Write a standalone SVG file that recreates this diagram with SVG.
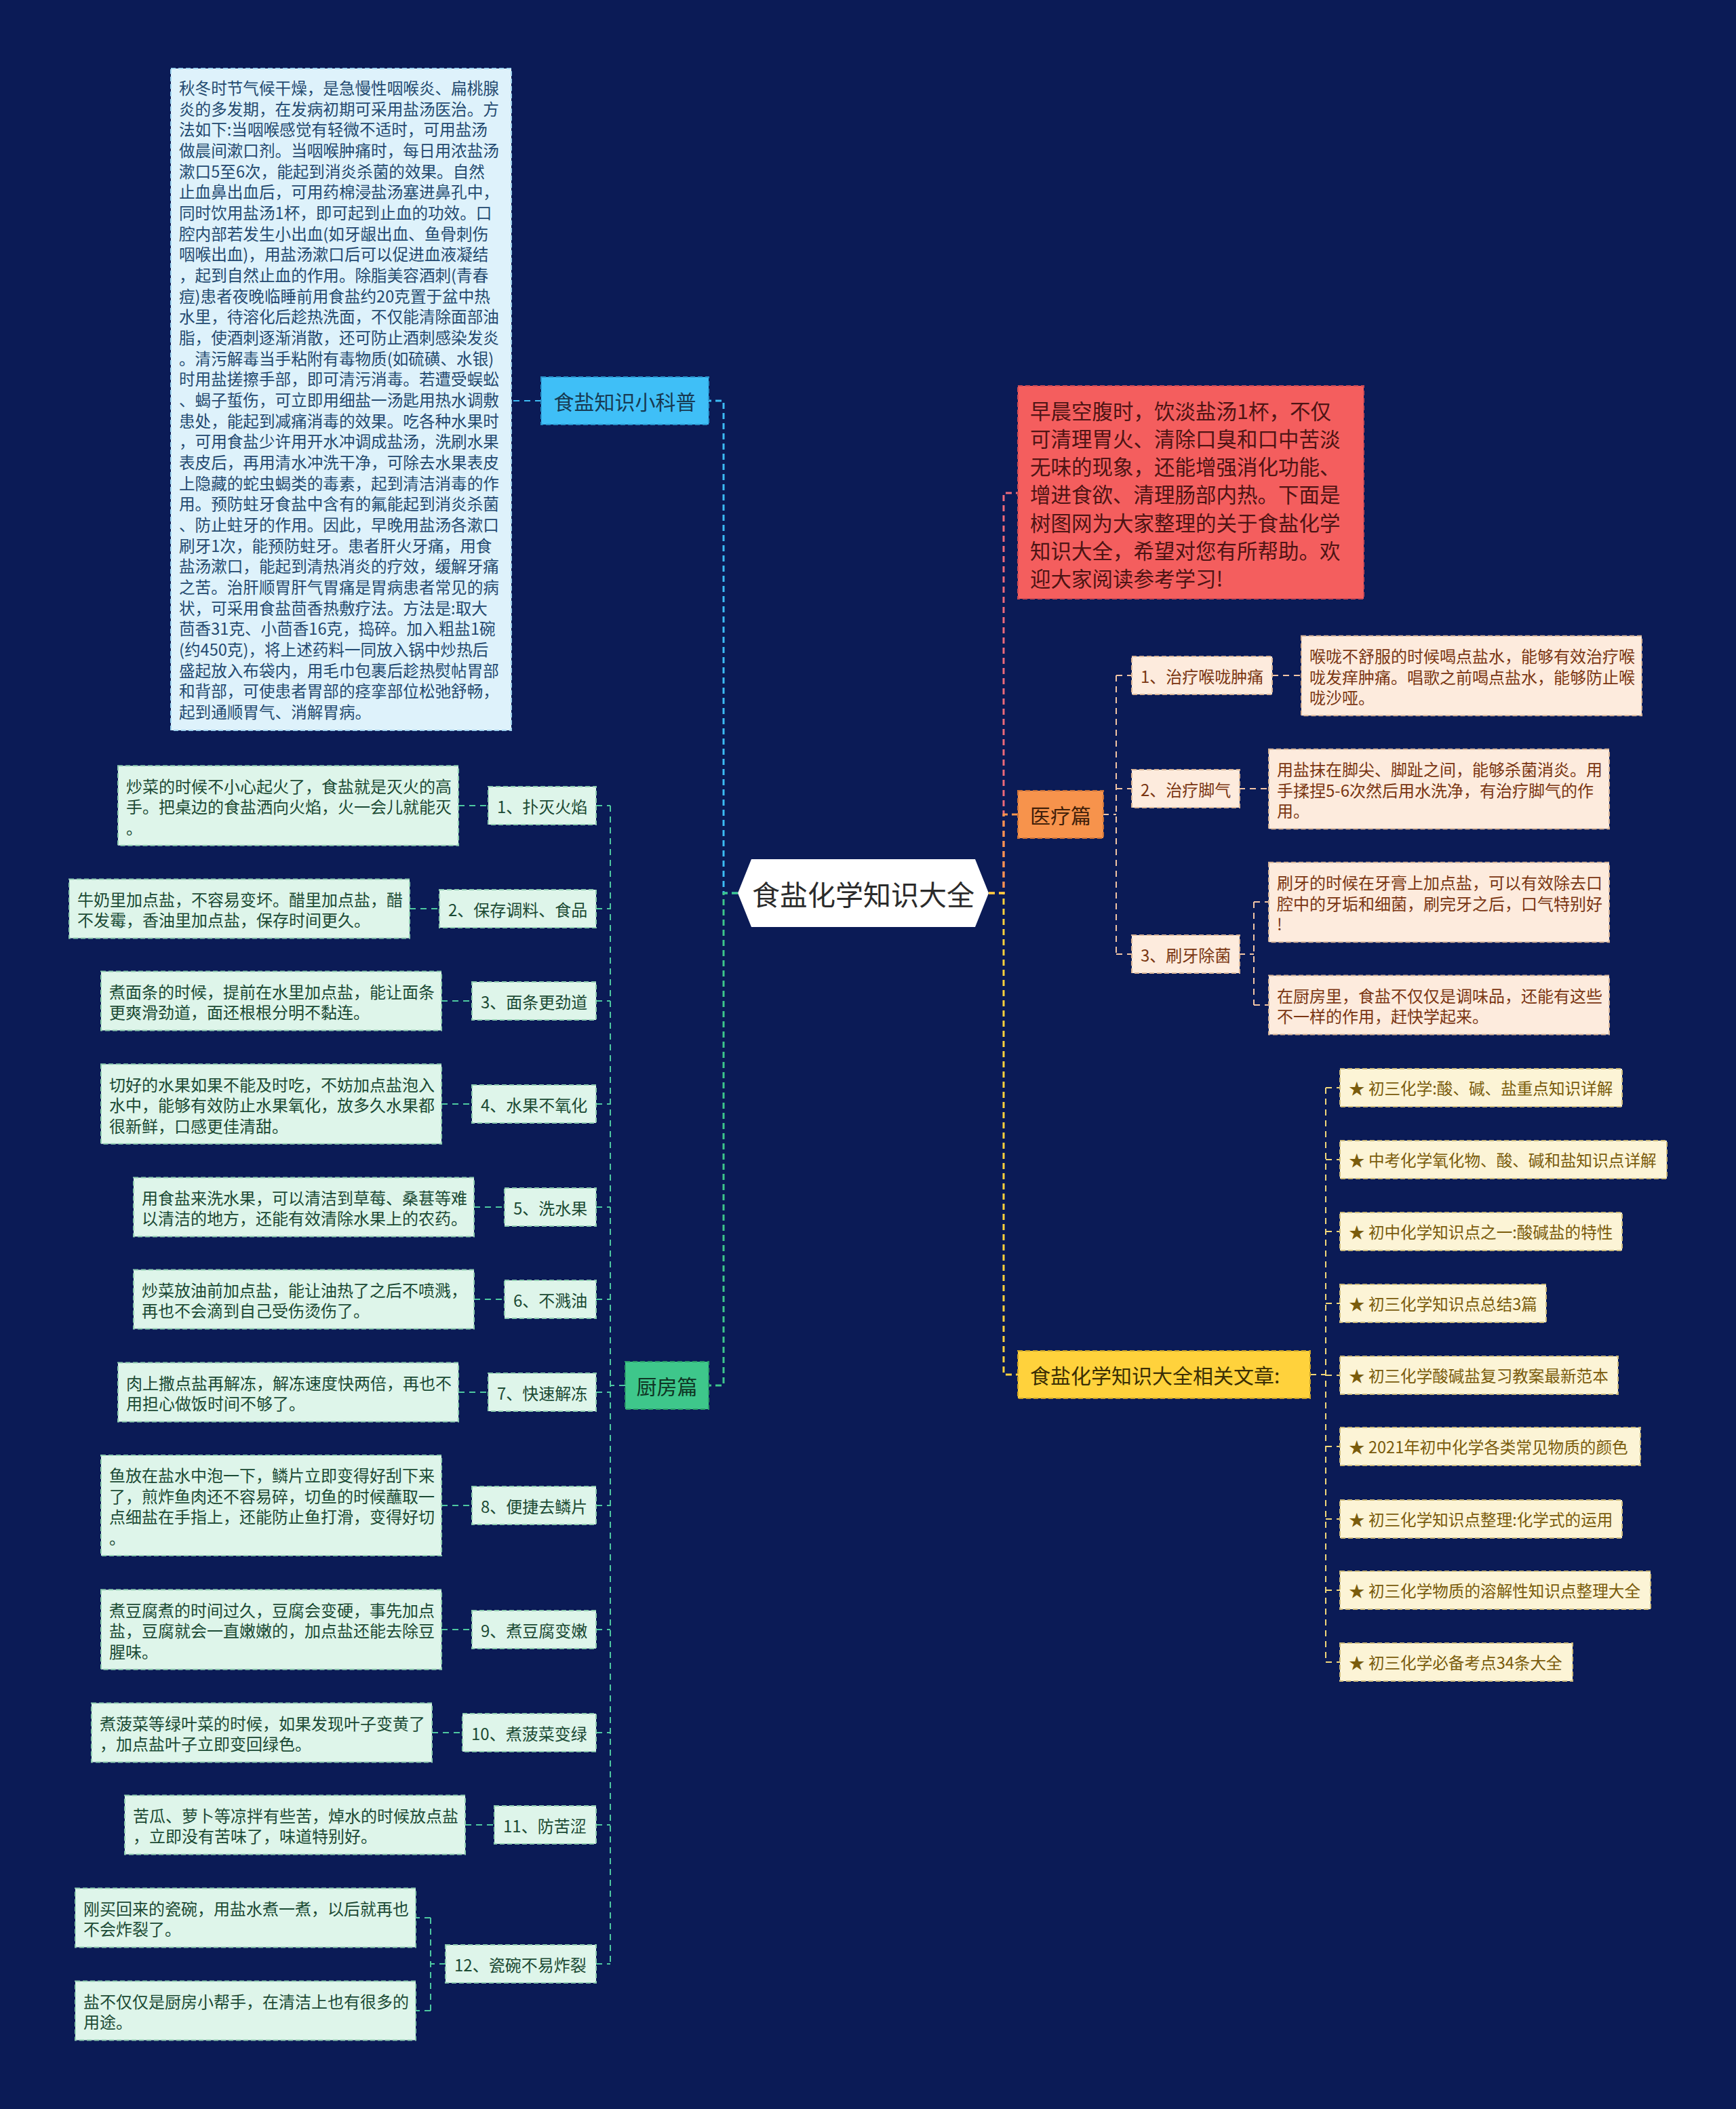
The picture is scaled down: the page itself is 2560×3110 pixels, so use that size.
<svg xmlns="http://www.w3.org/2000/svg" width="2560" height="3110" viewBox="0 0 2560 3110">
<defs>
<style>
text{font-family:"Noto Sans CJK SC","Noto Sans",sans-serif;dominant-baseline:central;}
.bg{fill:#0b1b56;}
.c{fill:none;stroke-width:3;stroke-dasharray:9 6;}
.ci{fill:none;stroke-width:2;stroke-dasharray:9 7;}
.blue{stroke:#3dbcf5;}
.green{stroke:#3ec78b;}
.pink{stroke:#ee6b7a;}
.orange{stroke:#f7944d;}
.yellow{stroke:#ffd23c;}
.kg{stroke:#4ec9a0;}
.mp{stroke:#f3c6a5;}
.ay{stroke:#f1d77a;}
.nb{stroke-width:2;stroke-dasharray:7 4;}
.root{fill:#ffffff;}
.rootT{font-size:41px;fill:#2b2b2b;text-anchor:middle;}
.mainT{font-size:30px;text-anchor:middle;}
.big{fill:#def2fb;stroke:#9fd3ee;}
.bigT{font-size:23.6px;fill:#244a70;}
.kBox{fill:#def5ea;stroke:#8fcdb0;}
.kT{font-size:24px;fill:#1b4a34;}
.mBox{fill:#fdebdd;stroke:#d8b597;}
.mT{font-size:24px;fill:#7a3612;}
.aBox{fill:#fcf4d6;stroke:#cdbb7c;}
.aT{font-size:23.6px;fill:#7a5c0c;}
</style>
</defs>
<rect class="bg" x="0" y="0" width="2560" height="3110"/>

<g id="connectors">
  <path class="c blue" d="M1088,1317 H1067 V591 H1045"/>
  <path class="c green" d="M1088,1317 H1067 V2043 H1045"/>
  <path class="c pink" d="M1458,1317 H1480 V727 H1501"/>
  <path class="c orange" d="M1458,1317 H1480 V1201 H1501"/>
  <path class="c yellow" d="M1458,1317 H1480 V2027 H1501"/>
  <path class="ci blue" d="M798,591 H754"/>
  <path class="ci mp" d="M1626,1201 H1646 M1646,996 V1407 M1646,996 H1669 M1646,1163 H1669 M1646,1407 H1669"/>
  <path class="ci mp" d="M1876,996 H1919 M1827,1163 H1871 M1827,1407 H1849 M1849,1330 V1482 M1849,1330 H1871 M1849,1482 H1871"/>
  <path class="ci ay" d="M1932,2027 H1955 M1955,1604 V2451 M1955,1604 H1976 M1955,1710 H1976 M1955,1816 H1976 M1955,1922 H1976 M1955,2028 H1976 M1955,2133 H1976 M1955,2240 H1976 M1955,2345 H1976 M1955,2451 H1976"/>
  <path class="ci kg" d="M922,2043 H900 M900,1188 V2896 M879,1188 H900 M879,1340 H900 M879,1476 H900 M879,1628 H900 M879,1780 H900 M879,1916 H900 M879,2053 H900 M879,2220 H900 M879,2403 H900 M879,2555 H900 M879,2691 H900 M879,2896 H900"/>
  <path class="ci kg" d="M676,1188 H720 M604,1340 H648 M651,1476 H696 M651,1628 H696 M699,1780 H744 M699,1916 H744 M676,2053 H720 M651,2220 H696 M651,2403 H696 M637,2555 H682 M686,2691 H729 M657,2896 H635 M635,2828 V2965 M635,2828 H613 M635,2965 H613"/>
</g>

<g id="root">
  <polygon class="root" points="1088,1317 1108,1267 1438,1267 1458,1317 1438,1367 1108,1367"/>
  <text class="rootT" x="1273" y="1317">食盐化学知识大全</text>
</g>

<g id="n-kepu">
  <rect x="798" y="556" width="247" height="70" fill="#3fbff7" stroke="#2a94cc" class="nb"/>
  <text class="mainT" x="921.5" y="591" fill="#173a52">食盐知识小科普</text>
</g>

<g id="n-kepu-text">
  <rect class="big nb" x="252" y="101" width="502" height="976"/>
  <text class="bigT">
    <tspan x="264" y="128.8">秋冬时节气候干燥，是急慢性咽喉炎、扁桃腺</tspan>
    <tspan x="264" y="159.5">炎的多发期，在发病初期可采用盐汤医治。方</tspan>
    <tspan x="264" y="190.1">法如下:当咽喉感觉有轻微不适时，可用盐汤</tspan>
    <tspan x="264" y="220.8">做晨间漱口剂。当咽喉肿痛时，每日用浓盐汤</tspan>
    <tspan x="264" y="251.5">漱口5至6次，能起到消炎杀菌的效果。自然</tspan>
    <tspan x="264" y="282.2">止血鼻出血后，可用药棉浸盐汤塞进鼻孔中，</tspan>
    <tspan x="264" y="312.8">同时饮用盐汤1杯，即可起到止血的功效。口</tspan>
    <tspan x="264" y="343.5">腔内部若发生小出血(如牙龈出血、鱼骨刺伤</tspan>
    <tspan x="264" y="374.2">咽喉出血)，用盐汤漱口后可以促进血液凝结</tspan>
    <tspan x="264" y="404.8">，起到自然止血的作用。除脂美容酒刺(青春</tspan>
    <tspan x="264" y="435.5">痘)患者夜晚临睡前用食盐约20克置于盆中热</tspan>
    <tspan x="264" y="466.2">水里，待溶化后趁热洗面，不仅能清除面部油</tspan>
    <tspan x="264" y="496.8">脂，使酒刺逐渐消散，还可防止酒刺感染发炎</tspan>
    <tspan x="264" y="527.5">。清污解毒当手粘附有毒物质(如硫磺、水银)</tspan>
    <tspan x="264" y="558.2">时用盐搓擦手部，即可清污消毒。若遭受蜈蚣</tspan>
    <tspan x="264" y="588.9">、蝎子蜇伤，可立即用细盐一汤匙用热水调敷</tspan>
    <tspan x="264" y="619.5">患处，能起到减痛消毒的效果。吃各种水果时</tspan>
    <tspan x="264" y="650.2">，可用食盐少许用开水冲调成盐汤，洗刷水果</tspan>
    <tspan x="264" y="680.9">表皮后，再用清水冲洗干净，可除去水果表皮</tspan>
    <tspan x="264" y="711.5">上隐藏的蛇虫蝎类的毒素，起到清洁消毒的作</tspan>
    <tspan x="264" y="742.2">用。预防蛀牙食盐中含有的氟能起到消炎杀菌</tspan>
    <tspan x="264" y="772.9">、防止蛀牙的作用。因此，早晚用盐汤各漱口</tspan>
    <tspan x="264" y="803.5">刷牙1次，能预防蛀牙。患者肝火牙痛，用食</tspan>
    <tspan x="264" y="834.2">盐汤漱口，能起到清热消炎的疗效，缓解牙痛</tspan>
    <tspan x="264" y="864.9">之苦。治肝顺胃肝气胃痛是胃病患者常见的病</tspan>
    <tspan x="264" y="895.6">状，可采用食盐茴香热敷疗法。方法是:取大</tspan>
    <tspan x="264" y="926.2">茴香31克、小茴香16克，捣碎。加入粗盐1碗</tspan>
    <tspan x="264" y="956.9">(约450克)，将上述药料一同放入锅中炒热后</tspan>
    <tspan x="264" y="987.6">盛起放入布袋内，用毛巾包裹后趁热熨帖胃部</tspan>
    <tspan x="264" y="1018.2">和背部，可使患者胃部的痉挛部位松弛舒畅，</tspan>
    <tspan x="264" y="1048.9">起到通顺胃气、消解胃病。</tspan>
  </text>
</g>

<g id="n-intro">
  <rect x="1501" y="569" width="510" height="314" fill="#f45e5e" stroke="#c94a55" class="nb"/>
  <text style="font-size:30.5px" fill="#4e1414">
    <tspan x="1519" y="604.5">早晨空腹时，饮淡盐汤1杯，不仅</tspan>
    <tspan x="1519" y="645.8">可清理胃火、清除口臭和口中苦淡</tspan>
    <tspan x="1519" y="687.1">无味的现象，还能增强消化功能、</tspan>
    <tspan x="1519" y="728.4">增进食欲、清理肠部内热。下面是</tspan>
    <tspan x="1519" y="769.7">树图网为大家整理的关于食盐化学</tspan>
    <tspan x="1519" y="811">知识大全，希望对您有所帮助。欢</tspan>
    <tspan x="1519" y="852.3">迎大家阅读参考学习!</tspan>
  </text>
</g>

<g id="n-medical">
  <rect x="1501" y="1166" width="126" height="70" fill="#f7934c" stroke="#c9723a" class="nb"/>
  <text class="mainT" x="1564" y="1201" fill="#40200a">医疗篇</text>
</g>
<g id="m1">
  <rect class="mBox nb" x="1669" y="968" width="207" height="56"/>
  <text class="mT" x="1682" y="996">1、治疗喉咙肿痛</text>
</g>
<g id="m1d">
  <rect class="mBox nb" x="1919" y="937.75" width="502" height="117.5"/>
  <text class="mT"><tspan x="1931" y="966">喉咙不舒服的时候喝点盐水，能够有效治疗喉</tspan><tspan x="1931" y="996.5">咙发痒肿痛。唱歌之前喝点盐水，能够防止喉</tspan><tspan x="1931" y="1027">咙沙哑。</tspan></text>
</g>
<g id="m2">
  <rect class="mBox nb" x="1669" y="1135" width="159" height="56"/>
  <text class="mT" x="1682" y="1163">2、治疗脚气</text>
</g>
<g id="m2d">
  <rect class="mBox nb" x="1871" y="1104.75" width="502" height="117.5"/>
  <text class="mT"><tspan x="1883" y="1133">用盐抹在脚尖、脚趾之间，能够杀菌消炎。用</tspan><tspan x="1883" y="1163.5">手揉捏5-6次然后用水洗净，有治疗脚气的作</tspan><tspan x="1883" y="1194">用。</tspan></text>
</g>
<g id="m3">
  <rect class="mBox nb" x="1669" y="1379" width="159" height="56"/>
  <text class="mT" x="1682" y="1407">3、刷牙除菌</text>
</g>
<g id="m3a">
  <rect class="mBox nb" x="1871" y="1271.75" width="502" height="117.5"/>
  <text class="mT"><tspan x="1883" y="1300">刷牙的时候在牙膏上加点盐，可以有效除去口</tspan><tspan x="1883" y="1330.5">腔中的牙垢和细菌，刷完牙之后，口气特别好</tspan><tspan x="1883" y="1361">!</tspan></text>
</g>
<g id="m3b">
  <rect class="mBox nb" x="1871" y="1438.5" width="502" height="87"/>
  <text class="mT"><tspan x="1883" y="1466.75">在厨房里，食盐不仅仅是调味品，还能有这些</tspan><tspan x="1883" y="1497.25">不一样的作用，赶快学起来。</tspan></text>
</g>

<g id="n-articles">
  <rect x="1501" y="1992" width="431" height="70" fill="#ffd23c" stroke="#c9a22a" class="nb"/>
  <text class="mainT" x="1519" y="2027" fill="#3a2e05" style="text-anchor:start">食盐化学知识大全相关文章:</text>
</g>
<g id="a1"><rect class="aBox nb" x="1976" y="1576" width="416" height="56"/><text class="aT" x="1989" y="1604">★ 初三化学:酸、碱、盐重点知识详解</text></g>
<g id="a2"><rect class="aBox nb" x="1976" y="1682" width="482" height="56"/><text class="aT" x="1989" y="1710">★ 中考化学氧化物、酸、碱和盐知识点详解</text></g>
<g id="a3"><rect class="aBox nb" x="1976" y="1788" width="416" height="56"/><text class="aT" x="1989" y="1816">★ 初中化学知识点之一:酸碱盐的特性</text></g>
<g id="a4"><rect class="aBox nb" x="1976" y="1894" width="304" height="56"/><text class="aT" x="1989" y="1922">★ 初三化学知识点总结3篇</text></g>
<g id="a5"><rect class="aBox nb" x="1976" y="2000" width="410" height="56"/><text class="aT" x="1989" y="2028">★ 初三化学酸碱盐复习教案最新范本</text></g>
<g id="a6"><rect class="aBox nb" x="1976" y="2105" width="443" height="56"/><text class="aT" x="1989" y="2133">★ 2021年初中化学各类常见物质的颜色</text></g>
<g id="a7"><rect class="aBox nb" x="1976" y="2212" width="416" height="56"/><text class="aT" x="1989" y="2240">★ 初三化学知识点整理:化学式的运用</text></g>
<g id="a8"><rect class="aBox nb" x="1976" y="2317" width="458" height="56"/><text class="aT" x="1989" y="2345">★ 初三化学物质的溶解性知识点整理大全</text></g>
<g id="a9"><rect class="aBox nb" x="1976" y="2423" width="343" height="56"/><text class="aT" x="1989" y="2451">★ 初三化学必备考点34条大全</text></g>

<g id="n-kitchen">
  <rect x="922" y="2008" width="123" height="70" fill="#3ec78b" stroke="#2a9a68" class="nb"/>
  <text class="mainT" x="983.5" y="2043" fill="#0f3524">厨房篇</text>
</g>

<g id="k1"><rect class="kBox nb" x="720" y="1160" width="159" height="56"/><text class="kT" x="733" y="1188">1、扑灭火焰</text></g>
<g id="k1d"><rect class="kBox nb" x="174" y="1129.25" width="502" height="117.5"/><text class="kT"><tspan x="186" y="1157.5">炒菜的时候不小心起火了，食盐就是灭火的高</tspan><tspan x="186" y="1188">手。把桌边的食盐洒向火焰，火一会儿就能灭</tspan><tspan x="186" y="1218.5">。</tspan></text></g>

<g id="k2"><rect class="kBox nb" x="648" y="1312" width="231" height="56"/><text class="kT" x="661" y="1340">2、保存调料、食品</text></g>
<g id="k2d"><rect class="kBox nb" x="102" y="1296.5" width="502" height="87"/><text class="kT"><tspan x="114" y="1324.75">牛奶里加点盐，不容易变坏。醋里加点盐，醋</tspan><tspan x="114" y="1355.25">不发霉，香油里加点盐，保存时间更久。</tspan></text></g>

<g id="k3"><rect class="kBox nb" x="696" y="1448" width="183" height="56"/><text class="kT" x="709" y="1476">3、面条更劲道</text></g>
<g id="k3d"><rect class="kBox nb" x="149" y="1432.5" width="502" height="87"/><text class="kT"><tspan x="161" y="1460.75">煮面条的时候，提前在水里加点盐，能让面条</tspan><tspan x="161" y="1491.25">更爽滑劲道，面还根根分明不黏连。</tspan></text></g>

<g id="k4"><rect class="kBox nb" x="696" y="1600" width="183" height="56"/><text class="kT" x="709" y="1628">4、水果不氧化</text></g>
<g id="k4d"><rect class="kBox nb" x="149" y="1569.25" width="502" height="117.5"/><text class="kT"><tspan x="161" y="1597.5">切好的水果如果不能及时吃，不妨加点盐泡入</tspan><tspan x="161" y="1628">水中，能够有效防止水果氧化，放多久水果都</tspan><tspan x="161" y="1658.5">很新鲜，口感更佳清甜。</tspan></text></g>

<g id="k5"><rect class="kBox nb" x="744" y="1752" width="135" height="56"/><text class="kT" x="757" y="1780">5、洗水果</text></g>
<g id="k5d"><rect class="kBox nb" x="197" y="1736.5" width="502" height="87"/><text class="kT"><tspan x="209" y="1764.75">用食盐来洗水果，可以清洁到草莓、桑葚等难</tspan><tspan x="209" y="1795.25">以清洁的地方，还能有效清除水果上的农药。</tspan></text></g>

<g id="k6"><rect class="kBox nb" x="744" y="1888" width="135" height="56"/><text class="kT" x="757" y="1916">6、不溅油</text></g>
<g id="k6d"><rect class="kBox nb" x="197" y="1872.5" width="502" height="87"/><text class="kT"><tspan x="209" y="1900.75">炒菜放油前加点盐，能让油热了之后不喷溅，</tspan><tspan x="209" y="1931.25">再也不会滴到自己受伤烫伤了。</tspan></text></g>

<g id="k7"><rect class="kBox nb" x="720" y="2025" width="159" height="56"/><text class="kT" x="733" y="2053">7、快速解冻</text></g>
<g id="k7d"><rect class="kBox nb" x="174" y="2009.5" width="502" height="87"/><text class="kT"><tspan x="186" y="2037.75">肉上撒点盐再解冻，解冻速度快两倍，再也不</tspan><tspan x="186" y="2068.25">用担心做饭时间不够了。</tspan></text></g>

<g id="k8"><rect class="kBox nb" x="696" y="2192" width="183" height="56"/><text class="kT" x="709" y="2220">8、便捷去鳞片</text></g>
<g id="k8d"><rect class="kBox nb" x="149" y="2146" width="502" height="148"/><text class="kT"><tspan x="161" y="2174.25">鱼放在盐水中泡一下，鳞片立即变得好刮下来</tspan><tspan x="161" y="2204.75">了，煎炸鱼肉还不容易碎，切鱼的时候蘸取一</tspan><tspan x="161" y="2235.25">点细盐在手指上，还能防止鱼打滑，变得好切</tspan><tspan x="161" y="2265.75">。</tspan></text></g>

<g id="k9"><rect class="kBox nb" x="696" y="2375" width="183" height="56"/><text class="kT" x="709" y="2403">9、煮豆腐变嫩</text></g>
<g id="k9d"><rect class="kBox nb" x="149" y="2344.25" width="502" height="117.5"/><text class="kT"><tspan x="161" y="2372.5">煮豆腐煮的时间过久，豆腐会变硬，事先加点</tspan><tspan x="161" y="2403">盐，豆腐就会一直嫩嫩的，加点盐还能去除豆</tspan><tspan x="161" y="2433.5">腥味。</tspan></text></g>

<g id="k10"><rect class="kBox nb" x="682" y="2527" width="197" height="56"/><text class="kT" x="695" y="2555">10、煮菠菜变绿</text></g>
<g id="k10d"><rect class="kBox nb" x="135" y="2511.5" width="502" height="87"/><text class="kT"><tspan x="147" y="2539.75">煮菠菜等绿叶菜的时候，如果发现叶子变黄了</tspan><tspan x="147" y="2570.25">，加点盐叶子立即变回绿色。</tspan></text></g>

<g id="k11"><rect class="kBox nb" x="729" y="2663" width="150" height="56"/><text class="kT" x="742" y="2691">11、防苦涩</text></g>
<g id="k11d"><rect class="kBox nb" x="184" y="2647.5" width="502" height="87"/><text class="kT"><tspan x="196" y="2675.75">苦瓜、萝卜等凉拌有些苦，焯水的时候放点盐</tspan><tspan x="196" y="2706.25">，立即没有苦味了，味道特别好。</tspan></text></g>

<g id="k12"><rect class="kBox nb" x="657" y="2868" width="222" height="56"/><text class="kT" x="670" y="2896">12、瓷碗不易炸裂</text></g>
<g id="k12a"><rect class="kBox nb" x="111" y="2784.5" width="502" height="87"/><text class="kT"><tspan x="123" y="2812.75">刚买回来的瓷碗，用盐水煮一煮，以后就再也</tspan><tspan x="123" y="2843.25">不会炸裂了。</tspan></text></g>
<g id="k12b"><rect class="kBox nb" x="111" y="2921.5" width="502" height="87"/><text class="kT"><tspan x="123" y="2949.75">盐不仅仅是厨房小帮手，在清洁上也有很多的</tspan><tspan x="123" y="2980.25">用途。</tspan></text></g>
</svg>
